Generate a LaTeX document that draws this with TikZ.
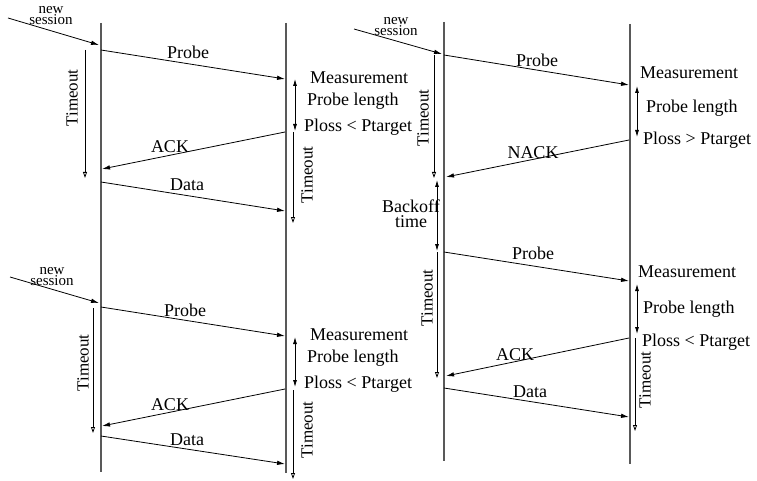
\documentclass[tikz,border=0pt]{standalone}
\usepackage{fontspec}
\setmainfont{Liberation Serif}
\usetikzlibrary{arrows.meta}
\begin{document}
\begin{tikzpicture}[x=1pt,y=-1pt,
  lifeline/.style={draw=black!65,line width=1.3pt},
  msg/.style={draw,line width=0.8pt,-{Latex[length=8pt,width=4.5pt]}},
  tmo/.style={draw,line width=0.8pt,-{Triangle[open,length=6pt,width=4pt]}},
  spanarr/.style={draw,line width=0.8pt,{Latex[length=7pt,width=4pt]}-{Latex[length=7pt,width=4pt]}},
  lbl/.style={inner sep=0pt,font=\fontsize{18}{18}\selectfont},
  side/.style={lbl,anchor=west},
  tlbl/.style={inner sep=0pt,rotate=90,font=\fontsize{17}{17}\selectfont},
  ns/.style={inner sep=0pt,align=center,font=\fontsize{15}{11}\selectfont},
]
\useasboundingbox (0,0) rectangle (757,481);

% lifelines
\coordinate (L1t) at (101,23);  \coordinate (L1b) at (101,472);
\coordinate (R1t) at (286,23);  \coordinate (R1b) at (286,473);
\coordinate (L2t) at (444,22);  \coordinate (L2b) at (444,461);
\coordinate (R2t) at (630,24);  \coordinate (R2b) at (630,464);
\draw[lifeline] (L1t) -- (L1b);
\draw[lifeline] (R1t) -- (R1b);
\draw[lifeline] (L2t) -- (L2b);
\draw[lifeline] (R2t) -- (R2b);

%%%%%%%% top left
\coordinate (a0) at (8,18);    \coordinate (a1) at (99,45);
\coordinate (a2) at (101,50);  \coordinate (a3) at (285,79);
\coordinate (a4) at (285,132); \coordinate (a5) at (102,169);
\coordinate (a6) at (101,182); \coordinate (a7) at (285,211);
\coordinate (a8) at (85,50);   \coordinate (a9) at (85,178);
\coordinate (a10) at (293,132);\coordinate (a11) at (293,223);
\coordinate (a12) at (295,79); \coordinate (a13) at (295,131);
\draw[msg] (a0) -- (a1);
\draw[msg] (a2) -- (a3);
\draw[msg] (a4) -- (a5);
\draw[msg] (a6) -- (a7);
\draw[tmo] (a8) -- (a9);
\draw[tmo] (a10) -- (a11);
\draw[spanarr] (a12) -- (a13);
\node[ns] (ans) at (51,16) {new\\session};
\node[lbl] (aprobe) at (188,52) {Probe};
\node[lbl] (aack) at (170,147) {ACK};
\node[lbl] (adata) at (187,185) {Data};
\node[tlbl] (at1) at (72,98) {Timeout};
\node[tlbl] (at2) at (307,175) {Timeout};
\node[side] (ameas) at (310,78) {Measurement};
\node[side] (apl) at (307,101) {Probe length};
\node[side] (aploss) at (304,127) {Ploss < Ptarget};

%%%%%%%% bottom left
\coordinate (b0) at (10,277);  \coordinate (b1) at (99,303);
\coordinate (b2) at (101,307); \coordinate (b3) at (285,336);
\coordinate (b4) at (285,389); \coordinate (b5) at (102,426);
\coordinate (b6) at (101,436); \coordinate (b7) at (285,464);
\coordinate (b8) at (93,308);  \coordinate (b9) at (93,433);
\coordinate (b10) at (293,390);\coordinate (b11) at (293,479);
\coordinate (b12) at (295,337);\coordinate (b13) at (295,387);
\draw[msg] (b0) -- (b1);
\draw[msg] (b2) -- (b3);
\draw[msg] (b4) -- (b5);
\draw[msg] (b6) -- (b7);
\draw[tmo] (b8) -- (b9);
\draw[tmo] (b10) -- (b11);
\draw[spanarr] (b12) -- (b13);
\node[ns] (bns) at (52,277) {new\\session};
\node[lbl] (bprobe) at (185,310) {Probe};
\node[lbl] (back) at (170,405) {ACK};
\node[lbl] (bdata) at (187,440) {Data};
\node[tlbl] (bt1) at (83,363) {Timeout};
\node[tlbl] (bt2) at (307,430) {Timeout};
\node[side] (bmeas) at (310,335) {Measurement};
\node[side] (bpl) at (307,358) {Probe length};
\node[side] (bploss) at (304,384) {Ploss < Ptarget};

%%%%%%%% right
\coordinate (c0) at (354,29);  \coordinate (c1) at (442,54);
\coordinate (c2) at (444,55);  \coordinate (c3) at (629,85);
\coordinate (c4) at (434,55);  \coordinate (c5) at (434,178);
\coordinate (c6) at (637,86);  \coordinate (c7) at (637,137);
\coordinate (c8) at (629,140); \coordinate (c9) at (446,177);
\coordinate (c10) at (437,180);\coordinate (c11) at (437,251);
\coordinate (c12) at (444,252);\coordinate (c13) at (629,281);
\coordinate (c14) at (437,252);\coordinate (c15) at (437,378);
\coordinate (c16) at (637,284);\coordinate (c17) at (637,334);
\coordinate (c18) at (629,338);\coordinate (c19) at (446,376);
\coordinate (c20) at (444,388);\coordinate (c21) at (629,417);
\coordinate (c22) at (635,338);\coordinate (c23) at (635,431);
\draw[msg] (c0) -- (c1);
\draw[msg] (c2) -- (c3);
\draw[tmo] (c4) -- (c5);
\draw[spanarr] (c6) -- (c7);
\draw[msg] (c8) -- (c9);
\draw[spanarr] (c10) -- (c11);
\draw[msg] (c12) -- (c13);
\draw[tmo] (c14) -- (c15);
\draw[spanarr] (c16) -- (c17);
\draw[msg] (c18) -- (c19);
\draw[msg] (c20) -- (c21);
\draw[tmo] (c22) -- (c23);
\node[ns] (cns) at (396,27) {new\\session};
\node[lbl] (cprobe) at (537,60) {Probe};
\node[tlbl] (ct1) at (423,118) {Timeout};
\node[side] (cmeas) at (640,73) {Measurement};
\node[side] (cpl) at (646,108) {Probe length};
\node[side] (cploss) at (643,140) {Ploss > Ptarget};
\node[lbl] (cnack) at (533,153) {NACK};
\node[lbl,align=center,font=\fontsize{18}{15}\selectfont] (cbo) at (411,214) {Backoff\\time};
\node[lbl] (cprobe2) at (533,253) {Probe};
\node[tlbl] (ct2) at (427,298) {Timeout};
\node[side] (cmeas2) at (638,272) {Measurement};
\node[side] (cpl2) at (643,309) {Probe length};
\node[side] (cploss2) at (642,342) {Ploss < Ptarget};
\node[lbl] (cack) at (515,355) {ACK};
\node[lbl] (cdata) at (530,392) {Data};
\node[tlbl] (ct3) at (645,380) {Timeout};
\end{tikzpicture}
\end{document}
